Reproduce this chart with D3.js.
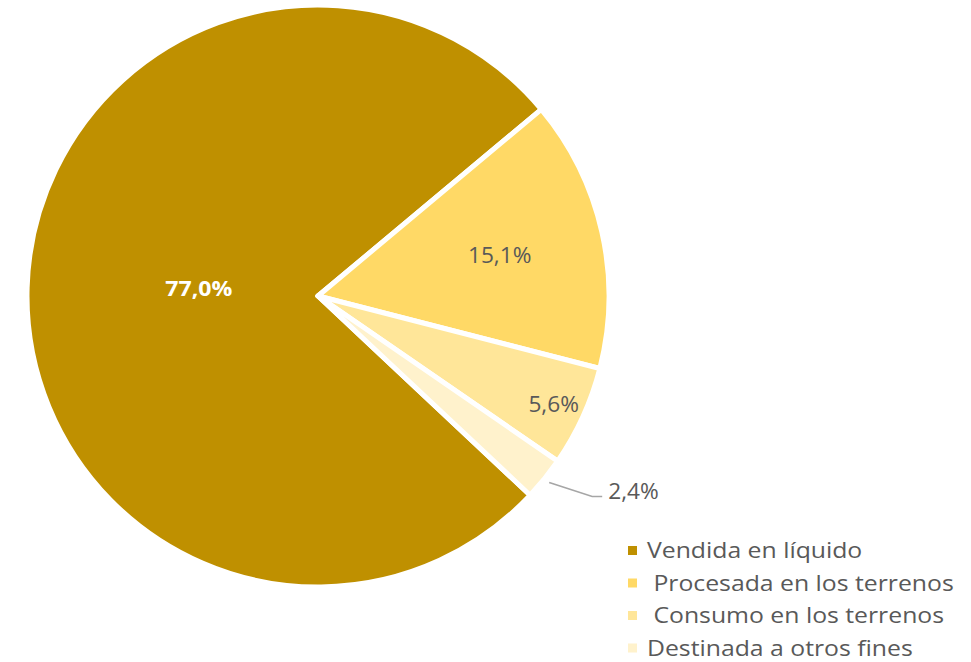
<!DOCTYPE html>
<html>
<head>
<meta charset="utf-8">
<script src="https://cdn.jsdelivr.net/npm/d3@7"></script>
<style>
  html, body { margin: 0; padding: 0; background: #ffffff; }
  svg { display: block; }
  text { font-family: "Open Sans", "DejaVu Sans", sans-serif; }
</style>
</head>
<body>
<svg id="chart" width="971" height="662"></svg>
<script>
// Destination of production (share, %)
const categories = ["Vendida en líquido", "Procesada en los terrenos", "Consumo en los terrenos", "Destinada a otros fines"];
const shares = [77.0, 15.1, 5.6, 2.4];
const labels = ["77,0%", "15,1%", "5,6%", "2,4%"];
const legendLabels = ["Vendida en líquido", " Procesada en los terrenos", " Consumo en los terrenos", "Destinada a otros fines"];
const colors = ["#BF9000", "#FFD966", "#FFE699", "#FFF2CC"];

const svg = d3.select("#chart");
const cx = 318, cy = 296, R = 291;

const color = d3.scaleOrdinal().domain(categories).range(colors);

const startDeg = 133.2;
const pie = d3.pie()
  .value(d => d.value)
  .sort(null)
  .startAngle(startDeg * Math.PI / 180)
  .endAngle(startDeg * Math.PI / 180 + 2 * Math.PI);

const data = categories.map((c, i) => ({ name: c, value: shares[i], label: labels[i] }));
const arcs = pie(data);

const arc = d3.arc().innerRadius(0).outerRadius(R);

const g = svg.append("g").attr("transform", `translate(${cx},${cy})`);

g.selectAll("path.slice")
  .data(arcs)
  .join("path")
  .attr("class", "slice")
  .attr("d", arc)
  .attr("fill", d => color(d.data.name))
  .attr("stroke", "#ffffff")
  .attr("stroke-width", 5)
  .attr("stroke-linejoin", "round");

// wide, geometric-looking text: glyphs stretched horizontally
function wideText(parent, x, y, sx, str, opts) {
  const t = parent.append("g")
    .attr("transform", `translate(${x},${y}) scale(${sx},1)`)
    .append("text")
    .attr("dominant-baseline", "central")
    .attr("font-size", opts.size)
    .attr("font-weight", opts.weight || 400)
    .attr("fill", opts.fill)
    .attr("text-anchor", opts.anchor || "start")
    .attr("xml:space", "preserve")
    .style("white-space", "pre")
    .text(str);
  return t;
}

// label radius as fraction of the pie radius, per slice, and a small vertical nudge
const labelFrac = [0.41, 0.64, 0.89];
const labelNudge = [-5, 0, 0];

function polar(angle, r) {
  return [r * Math.sin(angle), -r * Math.cos(angle)];
}

arcs.forEach((d, i) => {
  const mid = (d.startAngle + d.endAngle) / 2;
  if (i < 3) {
    const [x, y] = polar(mid, R * labelFrac[i]);
    wideText(g, x, y + labelNudge[i], i === 0 ? 1.1 : 1.08, d.data.label, {
      size: 21,
      weight: i === 0 ? 700 : 400,
      fill: i === 0 ? "#ffffff" : "#595959",
      anchor: "middle"
    });
  } else {
    // small slice: label outside with a leader line
    const p0 = polar(mid, R + 6);
    const p1 = [p0[0] + 43, p0[1] + 14];
    const p2 = [p1[0] + 10, p1[1]];
    g.append("polyline")
      .attr("points", [p0, p1, p2].map(p => p.join(",")).join(" "))
      .attr("fill", "none")
      .attr("stroke", "#A6A6A6")
      .attr("stroke-width", 1.6);
    wideText(g, p2[0] + 6, p2[1] - 6, 1.08, d.data.label, { size: 21, fill: "#595959" });
  }
});

// legend
const legend = svg.append("g").attr("transform", "translate(628,550)");
const rowH = 32.5;
const rows = legend.selectAll("g.row")
  .data(categories)
  .join("g")
  .attr("class", "row")
  .attr("transform", (d, i) => `translate(0,${i * rowH})`);

rows.append("rect")
  .attr("x", 0)
  .attr("y", -4)
  .attr("width", 9)
  .attr("height", 9)
  .attr("fill", d => color(d));

rows.each(function (d, i) {
  wideText(d3.select(this), 19, 0, 1.18, legendLabels[i], { size: 21, fill: "#595959" });
});
</script>
</body>
</html>
